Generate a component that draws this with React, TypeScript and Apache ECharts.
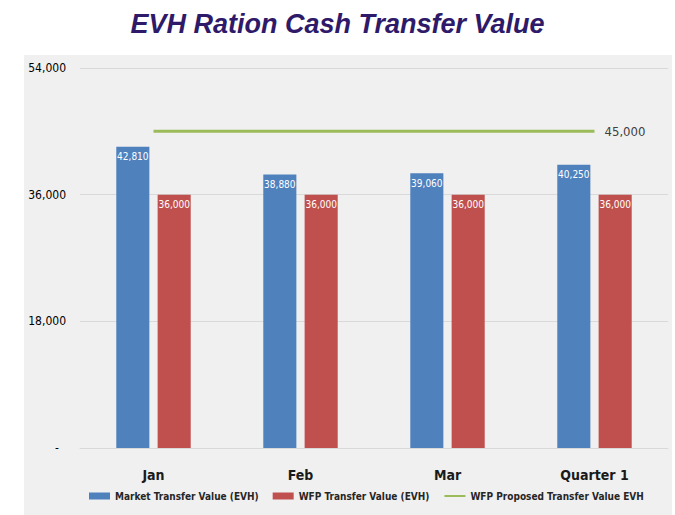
import React, { useEffect, useRef } from "react";
import * as echarts from "echarts";

const categories = ["Jan", "Feb", "Mar", "Quarter 1"];
const marketValues = [42810, 38880, 39060, 40250];
const wfpValues = [36000, 36000, 36000, 36000];
const proposedValues = [45000, 45000, 45000, 45000];
const yTicks = { min: 0, max: 54000, interval: 18000 };

const FONT = "'Liberation Sans Narrow', 'DejaVu Sans Condensed', 'Liberation Sans', sans-serif";

const fmt = (v: number) => v.toLocaleString("en-US");

export default function App() {
  const ref = useRef<HTMLDivElement>(null);
  useEffect(() => {
    if (!ref.current) return;
    const chart = echarts.init(ref.current, null, { renderer: "svg" });
    chart.setOption({
      animation: false,
      backgroundColor: "#ffffff",
      title: {
        text: "EVH Ration Cash Transfer Value",
        left: "center",
        top: 5,
        textStyle: {
          fontFamily: "'Liberation Sans', Arial, sans-serif",
          fontStyle: "italic",
          fontWeight: "bold",
          fontSize: 27,
          color: "#2e1a68",
        },
      },
      graphic: [
        {
          type: "rect",
          z: -10,
          silent: true,
          shape: { x: 24, y: 55, width: 648, height: 460 },
          style: { fill: "#f0f0f0" },
        },
      ],
      grid: { left: 80, right: 7, top: 68, bottom: 67 },
      legend: {
        bottom: 9,
        left: 84,
        itemWidth: 21,
        itemHeight: 7,
        itemGap: 14,
        textStyle: { fontFamily: FONT, fontSize: 10, fontWeight: "bold", color: "#262626" },
        data: [
          { name: "Market Transfer Value (EVH)", icon: "rect" },
          { name: "WFP Transfer Value (EVH)", icon: "rect" },
          { name: "WFP Proposed Transfer Value EVH", itemStyle: { opacity: 0 } },
        ],
      },
      xAxis: {
        type: "category",
        data: categories,
        axisLine: { lineStyle: { color: "#d9d9d9" } },
        axisTick: { show: false },
        axisLabel: {
          margin: 20,
          fontFamily: FONT,
          fontSize: 14,
          fontWeight: "bold",
          color: "#1a1a1a",
        },
      },
      yAxis: {
        type: "value",
        min: yTicks.min,
        max: yTicks.max,
        interval: yTicks.interval,
        axisLine: { show: false },
        axisTick: { show: false },
        splitLine: { lineStyle: { color: "#d9d9d9", width: 1 } },
        axisLabel: {
          margin: 14,
          fontFamily: FONT,
          fontSize: 12,
          color: "#000000",
          formatter: (v: number) => (v === 0 ? "{z|-}" : fmt(v)),
          rich: { z: { fontFamily: FONT, fontSize: 12, color: "#000", padding: [0, 7, 0, 0] } },
        },
      },
      series: [
        {
          name: "Market Transfer Value (EVH)",
          type: "bar",
          data: marketValues,
          barWidth: "22.5%",
          barGap: "25%",
          itemStyle: { color: "#4f81bd" },
          label: {
            show: true,
            position: "insideTop",
            distance: 5,
            fontFamily: FONT,
            fontSize: 10,
            color: "#ffffff",
            formatter: (p: any) => fmt(p.value),
          },
        },
        {
          name: "WFP Transfer Value (EVH)",
          type: "bar",
          data: wfpValues,
          barWidth: "22.5%",
          itemStyle: { color: "#c0504d" },
          label: {
            show: true,
            position: "insideTop",
            distance: 5,
            fontFamily: FONT,
            fontSize: 10,
            color: "#ffffff",
            formatter: (p: any) => fmt(p.value),
          },
        },
        {
          name: "WFP Proposed Transfer Value EVH",
          type: "line",
          data: proposedValues,
          symbol: "none",
          showSymbol: false,
          lineStyle: { color: "#9bbb59", width: 3 },
          itemStyle: { color: "#9bbb59" },
          endLabel: {
            show: true,
            distance: 10,
            fontFamily: FONT,
            fontSize: 13,
            color: "#404040",
            formatter: (p: any) => fmt(p.value),
          },
        },
      ],
    });
    return () => chart.dispose();
  }, []);
  return (
    <div
      ref={ref}
      style={{ position: "absolute", left: 0, top: 0, width: 675, height: 515 }}
    />
  );
}
